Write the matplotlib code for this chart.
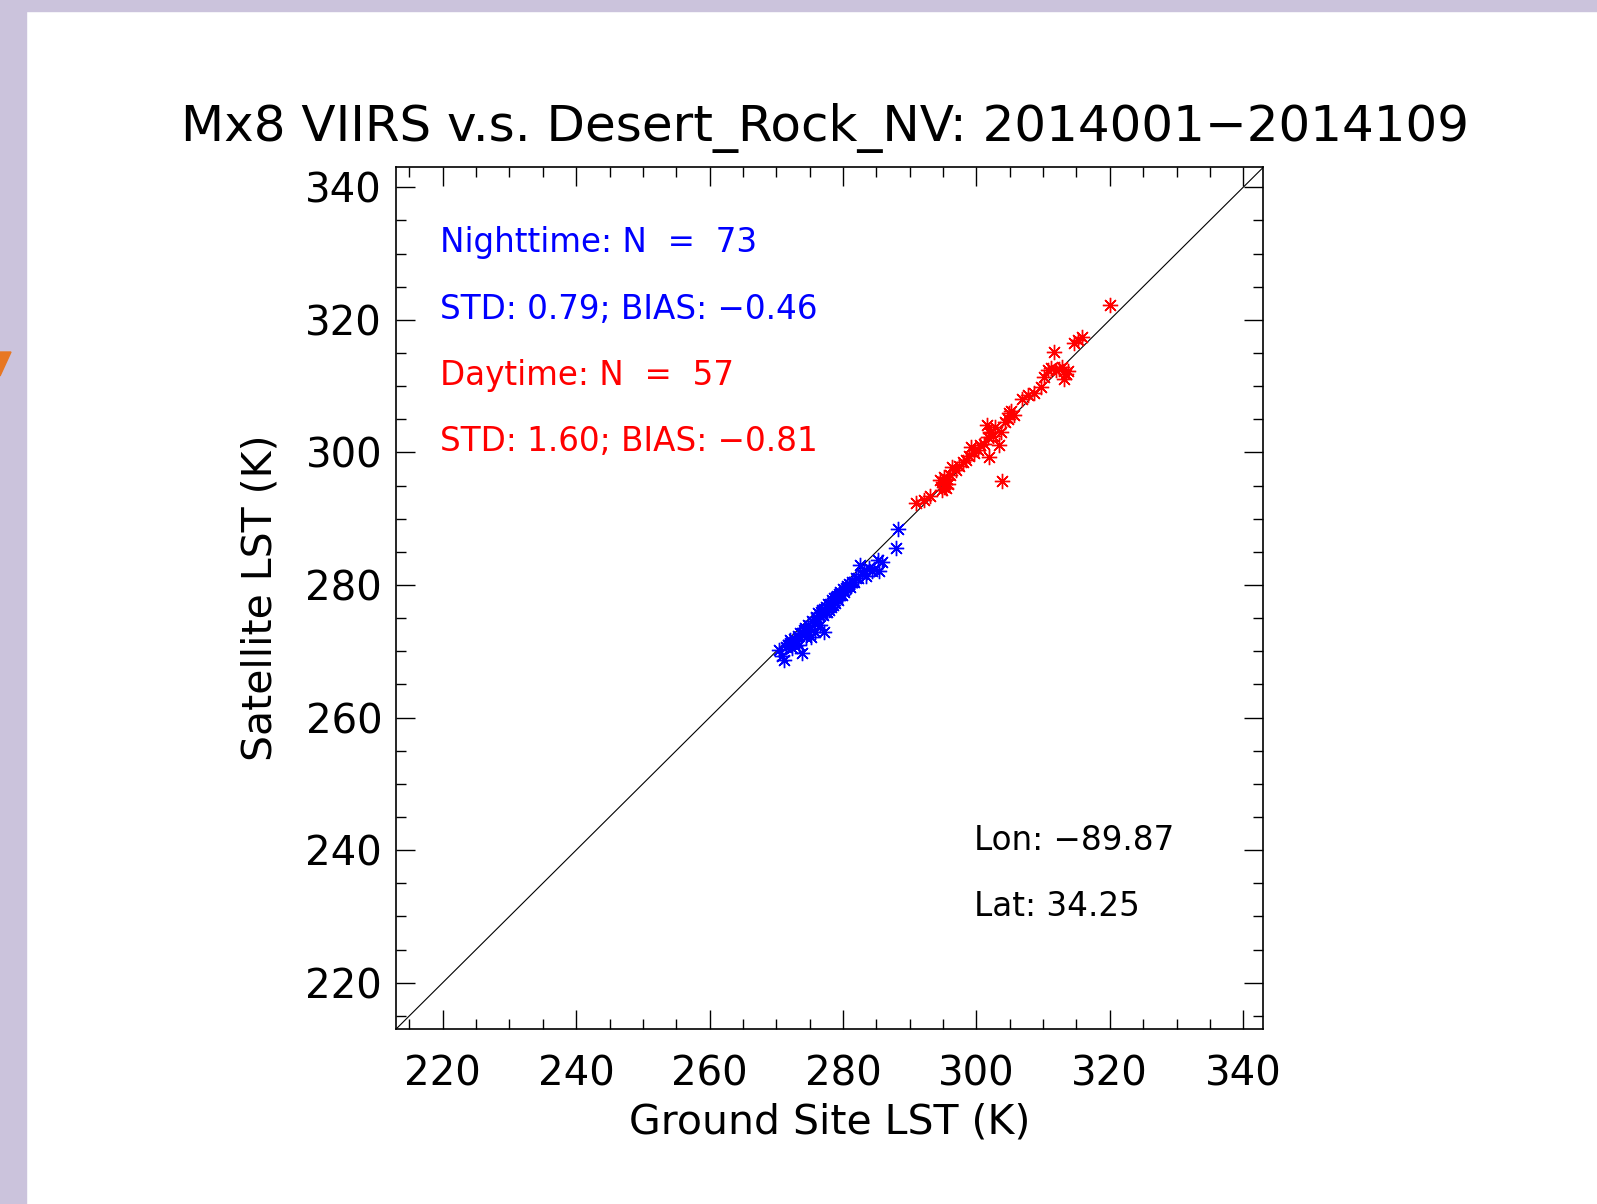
import matplotlib.pyplot as plt
from matplotlib.patches import Rectangle, Polygon
from matplotlib.ticker import MultipleLocator

# Nighttime matchups (ground site LST, satellite LST)
night_ground = [270.4, 270.9, 271.1, 271.5, 271.8, 272.0, 272.1, 272.3, 272.6, 272.9,
                273.2, 273.4, 273.6, 273.9, 273.9, 274.1, 274.3, 274.5, 274.8, 275.0,
                275.2, 275.4, 275.6, 275.8, 276.0, 276.1, 276.3, 276.5, 276.7, 276.8,
                277.0, 277.1, 277.1, 277.3, 277.5, 277.6, 277.8, 277.9, 278.1, 278.2,
                278.4, 278.5, 278.6, 278.8, 278.9, 279.1, 279.2, 279.4, 279.6, 279.8,
                280.0, 280.2, 280.4, 280.6, 280.9, 281.1, 281.3, 281.6, 281.9, 282.2,
                282.5, 282.8, 283.1, 283.5, 283.9, 284.3, 284.7, 285.2, 285.4, 285.8,
                288.2, 287.9, 277.4]
night_sat = [270.2, 269.3, 268.7, 270.6, 270.9, 271.3, 271.7, 270.5, 271.9, 271.6,
             272.3, 271.0, 272.8, 272.7, 269.7, 273.2, 273.5, 272.1, 274.0, 273.4,
             272.2, 274.6, 274.3, 272.9, 275.1, 274.8, 275.7, 274.0, 275.9, 276.2,
             275.5, 276.4, 272.9, 276.0, 276.7, 275.9, 277.1, 276.2, 277.2, 276.6,
             277.7, 277.0, 278.0, 277.3, 278.2, 278.4, 277.8, 278.6, 278.9, 278.5,
             279.4, 279.0, 279.6, 279.9, 280.1, 279.7, 280.4, 280.5, 281.0, 281.1,
             283.0, 281.6, 282.2, 281.3, 282.5, 282.1, 282.4, 283.7, 282.1, 283.4,
             288.4, 285.6, 275.9]

# Daytime matchups
day_ground = [290.9, 292.2, 293.0, 294.6, 294.9, 295.0, 295.2, 295.2, 295.3, 295.5,
              295.6, 295.8, 296.0, 296.4, 296.9, 297.4, 298.0, 298.4, 298.9, 299.2,
              299.6, 300.2, 300.6, 301.2, 301.6, 301.7, 301.9, 302.2, 302.5, 302.8,
              303.4, 303.7, 303.9, 304.3, 304.7, 304.9, 305.2, 305.6, 306.9, 307.8,
              308.7, 309.7, 310.2, 310.7, 311.2, 311.6, 311.9, 312.4, 312.9, 313.2,
              313.5, 313.7, 314.6, 315.2, 315.9, 320.1, 302.0]
day_sat = [292.3, 292.8, 293.4, 295.9, 294.3, 295.5, 296.3, 294.8, 295.2, 294.6,
           296.0, 295.2, 296.6, 297.8, 297.3, 298.0, 298.6, 298.8, 299.5, 300.8,
           299.9, 300.3, 301.1, 301.3, 304.1, 302.3, 299.3, 303.0, 302.4, 303.8,
           301.1, 303.1, 295.7, 304.6, 305.1, 305.9, 306.3, 305.6, 308.1, 308.6,
           308.9, 309.9, 311.3, 312.4, 312.8, 315.1, 312.4, 312.6, 312.9, 311.1,
           311.9, 312.3, 316.5, 316.9, 317.4, 322.2, 302.9]

axis_range = [213, 343]
stats_lines = ["Nighttime: N  =  73", "STD: 0.79; BIAS: \u22120.46",
               "Daytime: N  =  57", "STD: 1.60; BIAS: \u22120.81"]
stats_colors = ["blue", "blue", "red", "red"]
site_lines = ["Lon: \u221289.87", "Lat: 34.25"]

fig = plt.figure(figsize=(15.97, 12.04), dpi=100)

# slide frame (purple band top/left, orange arrow tip)
purple = "#cbc3dc"
fig.add_artist(Rectangle((0, 1 - 11 / 1204), 1, 11 / 1204, transform=fig.transFigure,
                         color=purple, zorder=0))
fig.add_artist(Rectangle((0, 0), 26 / 1597, 1, transform=fig.transFigure,
                         color=purple, zorder=0))
fig.add_artist(Polygon([(0, 1 - 352 / 1204), (11 / 1597, 1 - 352 / 1204), (0, 1 - 376 / 1204)],
                       closed=True, transform=fig.transFigure, color="#e87722", zorder=1))

ax = fig.add_axes([0.248, 0.1453, 0.543, 0.7157])
ax.plot(axis_range, axis_range, color="black", lw=0.8)
ax.plot(night_ground, night_sat, ls="none", marker=(8, 2, 0), ms=11, mew=1.0, color="blue")
ax.plot(day_ground, day_sat, ls="none", marker=(8, 2, 0), ms=11, mew=1.0, color="red")
ax.set_xlim(axis_range)
ax.set_ylim(axis_range)

for i, (txt, c) in enumerate(zip(stats_lines, stats_colors)):
    ax.text(219.6, 331.6 - 10.0 * i, txt, color=c, fontsize=23.5, va="center", ha="left")
for i, txt in enumerate(site_lines):
    ax.text(299.6, 241.5 - 10.0 * i, txt, color="black", fontsize=23.5, va="center", ha="left")

ax.xaxis.set_major_locator(MultipleLocator(20))
ax.yaxis.set_major_locator(MultipleLocator(20))
ax.xaxis.set_minor_locator(MultipleLocator(5))
ax.yaxis.set_minor_locator(MultipleLocator(5))
ax.tick_params(which="both", direction="in", top=True, right=True, width=1.0)
ax.tick_params(which="major", length=14, labelsize=29)
ax.tick_params(which="minor", length=7)
ax.tick_params(axis="x", which="major", pad=18)
ax.tick_params(axis="y", which="major", pad=10)
for s in ax.spines.values():
    s.set_linewidth(1.2)

ax.set_xlabel("Ground Site LST (K)", fontsize=29.5, labelpad=6)
ax.set_ylabel("Satellite LST (K)", fontsize=29.5, labelpad=18)
fig.text(0.5166, 0.894, "Mx8 VIIRS v.s. Desert_Rock_NV: 2014001\u22122014109",
         fontsize=36, ha="center", va="center")

plt.savefig("out.png", dpi=100)
